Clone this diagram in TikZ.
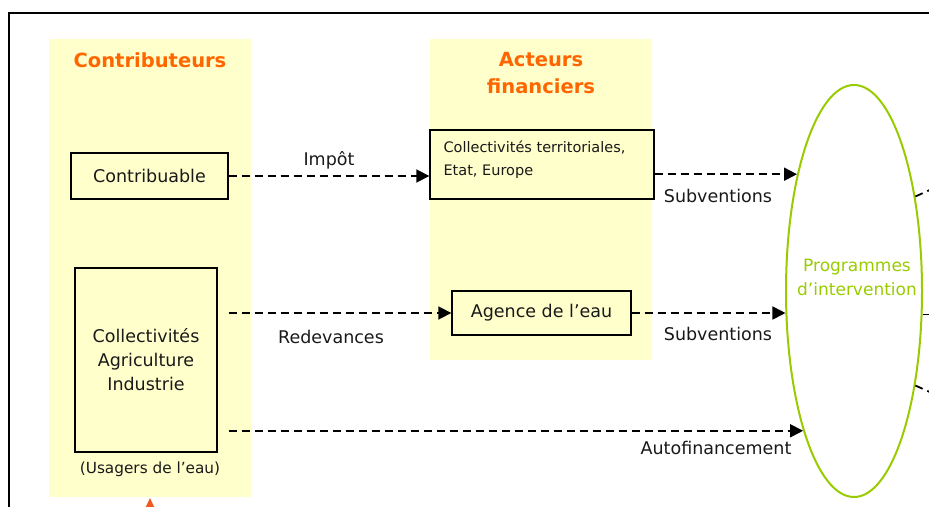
\documentclass[tikz,border=0pt]{standalone}
\usepackage{fontspec}
\setmainfont{DejaVu Sans}
\usetikzlibrary{shapes.geometric,arrows.meta}
\definecolor{jaune}{HTML}{FFFFCC}
\definecolor{orangetitre}{HTML}{FF6600}
\definecolor{vert}{HTML}{99CC00}
\definecolor{rouge}{HTML}{F05A1E}

\begin{document}
\begin{tikzpicture}[x=1pt,y=-1pt,
	boite/.style={draw=black,line width=1.4pt,fill=jaune,inner sep=0pt},
	flux/.style={line width=1.8pt,dash pattern=on 8pt off 5pt,-{Triangle[length=13pt,width=13pt]}},
	etiq/.style={text=black!90,font=\fontsize{17.5}{24}\selectfont},
	titre/.style={text=orangetitre,align=center,font=\bfseries\fontsize{19.5}{27}\selectfont}]
				\useasboundingbox (0,0) rectangle (929,506);
				\clip (0,0) rectangle (929,506);
				\draw[line width=1.6pt] (9,530) -- (9,13) -- (950,13);
				% colonnes
				\fill[jaune] (49,39) rectangle (251,497);
				\fill[jaune] (430,39) rectangle (652,360);
				\node[titre] (contributeurs) at (150,60) {Contributeurs};
				\node[titre] (acteurs) at (541,73) {Acteurs\\financiers};
				% boites
				\node[boite,etiq,minimum width=157pt,minimum height=46pt] (contrib) at (149.5,176) {Contribuable};
				\node[boite,etiq,align=center,minimum width=142pt,minimum height=184pt] (usagers) at (146,360) {Collectivités\\Agriculture\\Industrie};
				\node[etiq,font=\fontsize{15.3}{20}\selectfont] (usg) at (150,469) {(Usagers de l’eau)};
				\node[boite,minimum width=224pt,minimum height=69pt] (collterr) at (542,164.5) {};
				\node[etiq,anchor=west,align=left,font=\fontsize{14.5}{23}\selectfont] (collterrtxt) at (440,159.5) {Collectivités territoriales,\\Etat, Europe};
				\node[boite,etiq,minimum width=179pt,minimum height=44pt] (agence) at (541.5,313) {Agence de l’eau};
				\node[draw=vert,line width=2pt,ellipse,minimum width=136pt,minimum height=412pt,inner sep=0pt] (prog) at (854,291) {};
				\node[text=vert,align=center,font=\fontsize{17}{24}\selectfont] (progtxt) at (857,277) {Programmes\\d’intervention};
				% fleches
				\draw[flux] (contrib.east) -- (contrib.east -| collterr.west) node[etiq,midway,above=3pt] {Impôt};
				\draw[flux] (collterr.east |- prog.116) -- (prog.116);
				\node[etiq] (sub1) at (718,196) {Subventions};
				\draw[flux] (contrib.east |- agence.west) -- (agence.west);
				\node[etiq] (redev) at (331,337) {Redevances};
				\draw[flux] (agence.east) -- (agence.east -| prog.199);
				\node[etiq] (sub2) at (718,334) {Subventions};
				\draw[flux] (contrib.east |- prog.250) -- (prog.250);
				\node[etiq] (autof) at (716,448) {Autofinancement};
				\draw[flux] (prog.57) -- ++(40,-18);
				\draw[flux] (prog.-19) -- ++(40,0);
				\draw[flux] (prog.-57) -- ++(40,18);
				\coordinate (bas) at (150,498);
				\draw[rouge,line width=1.8pt,-{Triangle[length=10pt,width=9pt]}] (150,560) -- (bas);
			\end{tikzpicture}
\end{document}
